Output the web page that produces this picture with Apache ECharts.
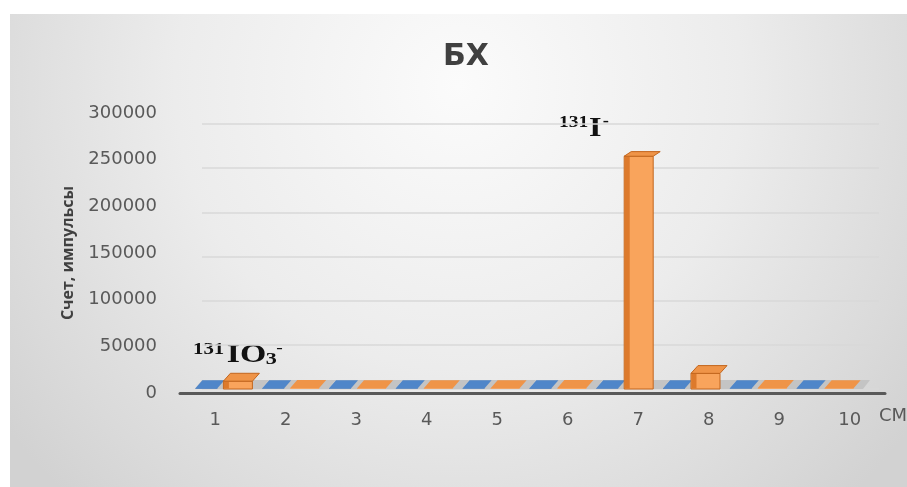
<!DOCTYPE html>
<html>
<head>
<meta charset="utf-8">
<script src="https://cdn.jsdelivr.net/npm/echarts@6/dist/echarts.min.js"></script>
<style>
  html, body { margin: 0; padding: 0; background: #ffffff; }
  #chart { width: 907px; height: 487px; }
</style>
</head>
<body>
<div id="chart"></div>
<script>
// ---- data ----
const categories = ['1', '2', '3', '4', '5', '6', '7', '8', '9', '10'];
const blueValues = [900, 800, 800, 800, 800, 900, 800, 900, 800, 800];
const orangeValues = [8500, 1000, 900, 900, 900, 1200, 253000, 17000, 1000, 900];
const yMin = 0;
const yMax = 300000;
const yStep = 50000;
const titleText = 'БХ';
const yAxisTitle = 'Счет, импульсы';
const xUnit = 'СМ';

// ---- rendering ----
const chart = echarts.init(document.getElementById('chart'), null, { renderer: 'canvas' });

const DX = 7;

function barRenderer(frontOffset, frontWidth, pal) {
  return function (params, api) {
    const idx = api.value(0);
    const val = api.value(1);
    const base = api.coord([idx, 0]);
    const top = api.coord([idx, val]);
    const gridH = params.coordSys.height;
    const y0 = base[1];
    const y1 = top[1];
    const h = y0 - y1;
    const frac = h / gridH;
    const dy = -(8 - 4 * frac);
    const x = base[0] + frontOffset;
    const w = frontWidth;
    const children = [];
    if (h > 0.5) {
      children.push({
        type: 'rect',
        shape: { x: x, y: y1, width: w, height: h },
        style: { fill: pal.front, stroke: h > 4 ? pal.edge : null, lineWidth: 1 }
      });
      if (h > 4) {
        children.push({
          type: 'rect',
          shape: { x: x + 0.5, y: y1 + 0.5, width: 5, height: h - 1 },
          style: { fill: pal.side }
        });
      }
    }
    children.push({
      type: 'polygon',
      shape: { points: [[x, y1], [x + w, y1], [x + w + DX, y1 + dy], [x + DX, y1 + dy]] },
      style: { fill: pal.top, stroke: h > 4 ? pal.edge : null, lineWidth: 1 }
    });
    return { type: 'group', children: children };
  };
}

function floorRenderer(params, api) {
  const idx = api.value(0);
  const base = api.coord([idx, 0]);
  const bw = api.size([1, 0])[0];
  const x0 = base[0] - bw / 2;
  const x1 = base[0] + bw / 2;
  const y = base[1];
  return {
    type: 'polygon',
    shape: { points: [[x0, y], [x1, y], [x1 + DX, y - 9], [x0 + DX, y - 9]] },
    style: { fill: '#c4c4c4' }
  };
}

const labelFont = 'DejaVu Sans';
const plain = function (v) { return String(v); };

const option = {
  backgroundColor: '#ffffff',
  animation: false,
  graphic: [
    {
      type: 'rect',
      z: -10,
      silent: true,
      shape: { x: 10, y: 14, width: 897, height: 473 },
      style: {
        fill: new echarts.graphic.RadialGradient(0.5, 0.15, 1.2, [
          { offset: 0, color: '#fbfbfb' },
          { offset: 0.5, color: '#ececec' },
          { offset: 0.85, color: '#dadada' },
          { offset: 1, color: '#d2d2d2' }
        ])
      }
    },
    {
      type: 'text',
      x: 466, y: 57,
      style: {
        text: titleText,
        font: 'bold 30px "DejaVu Sans"',
        fill: '#404040',
        align: 'center',
        verticalAlign: 'middle'
      }
    },
    {
      type: 'text',
      x: 879, y: 416,
      style: {
        text: xUnit,
        font: '18px "DejaVu Sans"',
        fill: '#595959',
        align: 'left',
        verticalAlign: 'middle'
      }
    },
    {
      type: 'group',
      x: 193, y: 0,
      scaleX: 1.3,
      children: [
        { type: 'text', x: 0, y: 358, style: { text: '131', font: 'bold 16px "Liberation Serif"', fill: '#111', verticalAlign: 'bottom' } },
        { type: 'text', x: 26, y: 368, style: { text: 'IO', font: 'bold 26px "Liberation Serif"', fill: '#111', verticalAlign: 'bottom' } },
        { type: 'text', x: 56, y: 368, style: { text: '3', font: 'bold 17px "Liberation Serif"', fill: '#111', verticalAlign: 'bottom' } },
        { type: 'text', x: 64, y: 356, style: { text: '-', font: 'bold 15px "Liberation Serif"', fill: '#111', verticalAlign: 'bottom' } }
      ]
    },
    {
      type: 'group',
      x: 559, y: 0,
      scaleX: 1.15,
      children: [
        { type: 'text', x: 0, y: 131, style: { text: '131', font: 'bold 17px "Liberation Serif"', fill: '#111', verticalAlign: 'bottom' } },
        { type: 'text', x: 26, y: 143, style: { text: 'I', font: 'bold 28px "Liberation Serif"', fill: '#111', verticalAlign: 'bottom' } },
        { type: 'text', x: 38, y: 130, style: { text: '-', font: 'bold 16px "Liberation Serif"', fill: '#111', verticalAlign: 'bottom' } }
      ]
    }
  ],
  grid: [
    { left: 180, right: 22, top: 113, bottom: 94 },
    { left: 195, right: 44, top: 113, bottom: 98 },
    { left: 202, right: 28, top: 124, bottom: 98 }
  ],
  xAxis: [
    {
      type: 'category',
      gridIndex: 0,
      data: categories,
      boundaryGap: true,
      axisLine: { show: true, lineStyle: { color: '#595959', width: 3 } },
      axisTick: { show: false },
      axisLabel: { color: '#595959', fontFamily: labelFont, fontSize: 18, margin: 18 },
      splitLine: { show: false },
      z: 5
    },
    {
      type: 'category',
      gridIndex: 1,
      data: categories,
      boundaryGap: true,
      show: false
    },
    {
      type: 'category',
      gridIndex: 2,
      data: categories,
      boundaryGap: true,
      show: false
    }
  ],
  yAxis: [
    {
      type: 'value',
      gridIndex: 0,
      min: yMin, max: yMax, interval: yStep,
      axisLine: { show: false },
      axisTick: { show: false },
      splitLine: { show: false },
      axisLabel: { color: '#595959', fontFamily: labelFont, fontSize: 18, margin: 23, formatter: plain },
      name: yAxisTitle,
      nameLocation: 'middle',
      nameRotate: 90,
      nameGap: 104,
      nameTextStyle: { color: '#404040', fontFamily: 'Open Sans', fontWeight: 'bold', fontSize: 16 }
    },
    {
      type: 'value',
      gridIndex: 1,
      min: yMin, max: yMax, interval: yStep,
      show: false,
      splitLine: { show: false }
    },
    {
      type: 'value',
      gridIndex: 2,
      min: yMin, max: yMax, interval: yStep,
      axisLine: { show: false },
      axisTick: { show: false },
      axisLabel: { show: false },
      splitLine: { show: true, lineStyle: { color: '#d8d8d8', width: 1.5 } }
    }
  ],
  series: [
    {
      type: 'custom',
      name: 'floor',
      xAxisIndex: 1, yAxisIndex: 1,
      z: 2,
      renderItem: floorRenderer,
      encode: { x: 0, y: 1 },
      data: categories.map(function (c, i) { return [i, 0]; })
    },
    {
      type: 'custom',
      name: 'blue',
      xAxisIndex: 1, yAxisIndex: 1,
      z: 3,
      renderItem: barRenderer(-33, 22, { front: '#4a7ebf', side: '#3b6aa6', top: '#4f86c9', edge: '#345f94' }),
      encode: { x: 0, y: 1 },
      data: blueValues.map(function (v, i) { return [i, v]; })
    },
    {
      type: 'custom',
      name: 'orange',
      xAxisIndex: 1, yAxisIndex: 1,
      z: 4,
      renderItem: barRenderer(-5, 29, { front: '#f9a45c', side: '#dd7a2c', top: '#ef9448', edge: '#c3661e' }),
      encode: { x: 0, y: 1 },
      data: orangeValues.map(function (v, i) { return [i, v]; })
    }
  ]
};

chart.setOption(option);
</script>
</body>
</html>
